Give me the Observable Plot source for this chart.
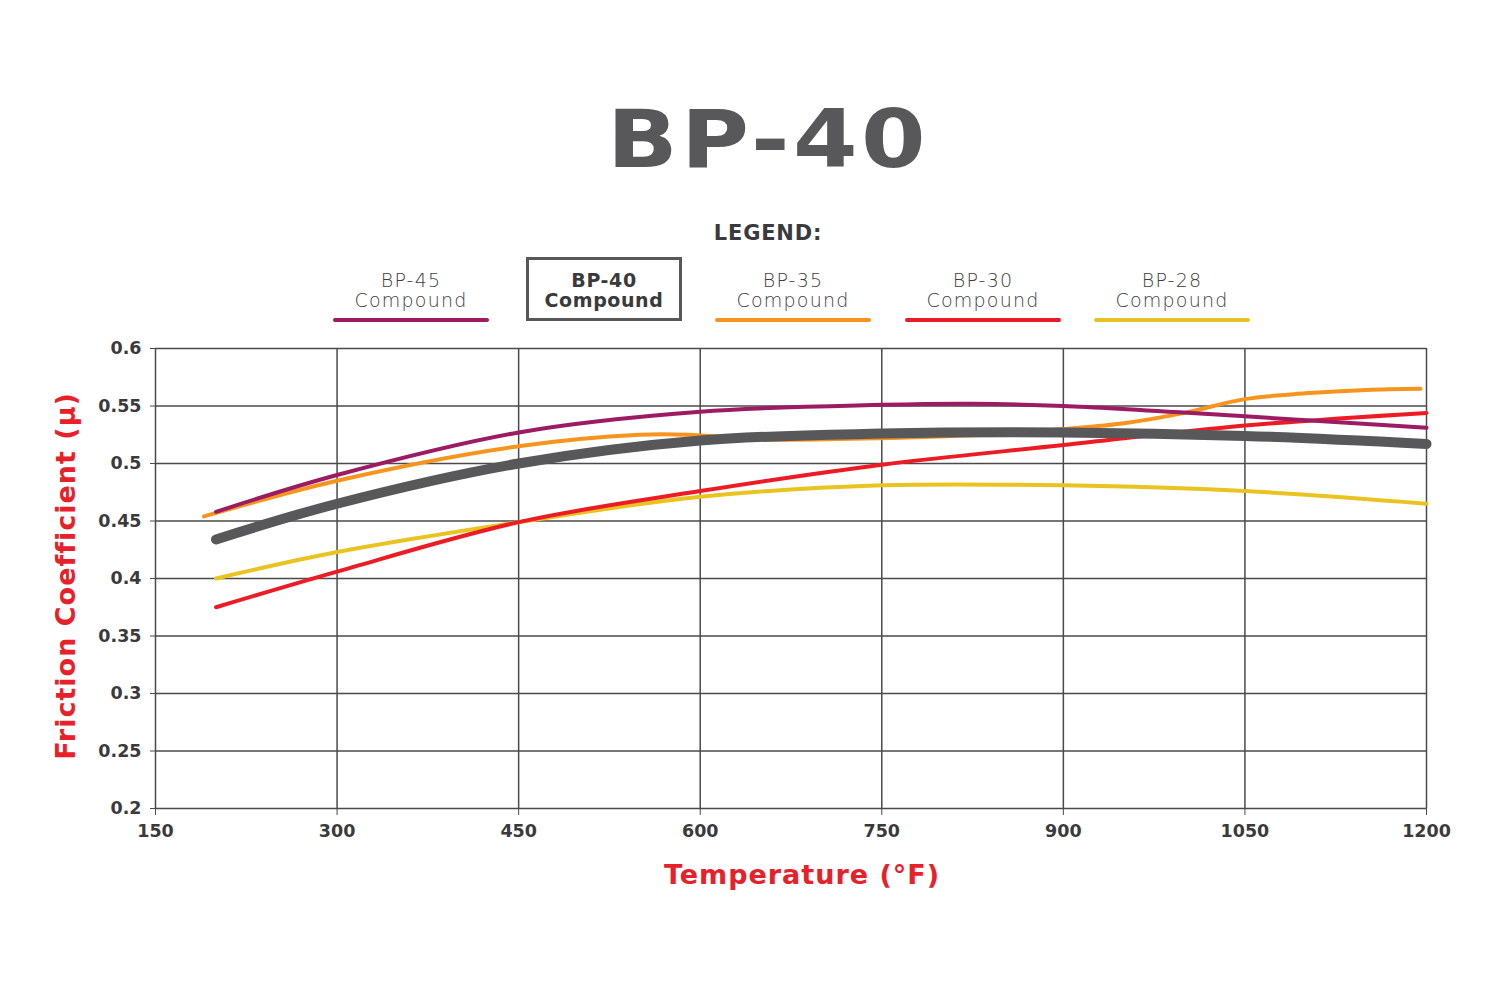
<!DOCTYPE html>
<html>
<head>
<meta charset="utf-8">
<script src="https://cdn.jsdelivr.net/npm/d3@7"></script>
<script src="https://cdn.jsdelivr.net/npm/@observablehq/plot@0.6"></script>
<style>
  html, body { margin: 0; padding: 0; background: #fff; }
  #page { position: relative; width: 1500px; height: 1000px; overflow: hidden; font-family: "DejaVu Sans", sans-serif; }
  .abs { position: absolute; }
  #title { left: 0; width: 1536px; top: 92px; text-align: center; font-size: 80px; font-weight: bold; color: #58585a; letter-spacing: 3px; line-height: 96px; transform: scaleX(1.16); transform-origin: 768px 0; }
  #legend-title { left: 0; width: 1536px; top: 221px; text-align: center; font-size: 21px; font-weight: bold; color: #3a3a3c; line-height: 24px; letter-spacing: 0.8px; }
  .item { width: 176px; top: 270px; text-align: center; font-size: 19px; line-height: 20px; color: #3e3e40; font-weight: 300; letter-spacing: 1.2px; }
  .item.bold { font-weight: bold; color: #3a3a3c; letter-spacing: 0.6px; }
  .swatch { width: 156px; height: 4px; border-radius: 2px; top: 318px; }
  #box { left: 526px; top: 257px; width: 150px; height: 58px; border: 3px solid #58585a; }
  #ylab { left: 65px; top: 576px; transform: translate(-50%, -50%) rotate(-90deg); font-size: 27px; font-weight: bold; color: #e8202a; white-space: nowrap; letter-spacing: 1px; }
  #xlab { left: 802px; top: 874px; transform: translate(-50%, -50%); font-size: 27px; font-weight: bold; color: #e8202a; white-space: nowrap; letter-spacing: 1px; }
  #chart { left: 0; top: 320px; }
</style>
</head>
<body>
<div id="page">
  <div id="title" class="abs">BP-40</div>
  <div id="legend-title" class="abs">LEGEND:</div>
  <div id="legend"></div>
  <div id="box" class="abs"></div>
  <div id="ylab" class="abs">Friction Coefficient (μ)</div>
  <div id="xlab" class="abs">Temperature (°F)</div>
  <div id="chart" class="abs"></div>
</div>
<script>
// ---- data ----
const xTicks = [150, 300, 450, 600, 750, 900, 1050, 1200];
const yTicks = [0.2, 0.25, 0.3, 0.35, 0.4, 0.45, 0.5, 0.55, 0.6];
const yTickLabels = ["0.2", "0.25", "0.3", "0.35", "0.4", "0.45", "0.5", "0.55", "0.6"];

const seriesNames = ["BP-45", "BP-40", "BP-35", "BP-30", "BP-28"];
const seriesColors = ["#9c1b63", "#58585a", "#f7941d", "#ed1c24", "#e9c31f"];

const bp45Temp = [200, 300, 450, 600, 750, 825, 900, 1050, 1200];
const bp45Mu   = [0.458, 0.490, 0.527, 0.545, 0.551, 0.552, 0.550, 0.541, 0.531];

const bp40Temp = [200, 300, 450, 600, 750, 900, 1050, 1200];
const bp40Mu   = [0.434, 0.465, 0.500, 0.520, 0.526, 0.527, 0.524, 0.517];

const bp35Temp = [190, 300, 450, 550, 590, 650, 750, 850, 900, 950, 1000, 1050, 1100, 1150, 1195];
const bp35Mu   = [0.454, 0.485, 0.515, 0.525, 0.525, 0.521, 0.522, 0.526, 0.530, 0.535, 0.544, 0.556, 0.561, 0.564, 0.565];

const bp30Temp = [200, 300, 450, 600, 750, 900, 1050, 1200];
const bp30Mu   = [0.375, 0.406, 0.449, 0.476, 0.499, 0.516, 0.533, 0.544];

const bp28Temp = [200, 300, 450, 600, 750, 900, 1050, 1200];
const bp28Mu   = [0.400, 0.423, 0.449, 0.471, 0.481, 0.481, 0.476, 0.465];

// ---- legend ----
const legendCenters = [411, 604, 793, 983, 1172];
const legend = document.getElementById("legend");
seriesNames.forEach((name, i) => {
  const t = document.createElement("div");
  t.className = "abs item" + (name === "BP-40" ? " bold" : "");
  t.style.left = (legendCenters[i] - 88) + "px";
  t.innerHTML = name + "<br>Compound";
  legend.appendChild(t);
  if (name !== "BP-40") {
    const s = document.createElement("div");
    s.className = "abs swatch";
    s.style.left = (legendCenters[i] - 78) + "px";
    s.style.background = seriesColors[i];
    legend.appendChild(s);
  }
});

const toRows = (temps, mus) => temps.map((t, i) => ({t, mu: mus[i]}));
const lineOpts = (color, w) => ({x: "t", y: "mu", stroke: color, strokeWidth: w, curve: "catmull-rom", strokeLinecap: "round", strokeLinejoin: "round"});

const chart = Plot.plot({
  width: 1500,
  height: 580,
  marginTop: 28,
  marginLeft: 155,
  marginRight: 74,
  marginBottom: 92,
  style: {fontFamily: "DejaVu Sans, sans-serif", background: "transparent"},
  x: {domain: [150, 1200]},
  y: {domain: [0.2, 0.6]},
  marks: [
    Plot.ruleX(xTicks, {stroke: "#4a4a4c", strokeWidth: 1.5, y1: 0.2, y2: 0.6}),
    Plot.ruleY(yTicks, {stroke: "#4a4a4c", strokeWidth: 1.5, x1: 150, x2: 1200}),
    Plot.axisX({ticks: xTicks, tickSize: 7, tickPadding: 9, stroke: "#4a4a4c", fill: "#3a3a3c", fontSize: 17.5, fontWeight: "bold", label: null, tickFormat: d => String(d)}),
    Plot.axisY({ticks: yTicks, tickSize: 5, tickPadding: 9, stroke: "#4a4a4c", fill: "#3a3a3c", fontSize: 17.5, fontWeight: "bold", label: null, tickFormat: (d, i) => yTickLabels[i]}),
    Plot.line(toRows(bp28Temp, bp28Mu), lineOpts(seriesColors[4], 4)),
    Plot.line(toRows(bp30Temp, bp30Mu), lineOpts(seriesColors[3], 4)),
    Plot.line(toRows(bp35Temp, bp35Mu), lineOpts(seriesColors[2], 4)),
    Plot.line(toRows(bp45Temp, bp45Mu), lineOpts(seriesColors[0], 4)),
    Plot.line(toRows(bp40Temp, bp40Mu), lineOpts(seriesColors[1], 10))
  ]
});
document.getElementById("chart").appendChild(chart);
</script>
</body>
</html>
